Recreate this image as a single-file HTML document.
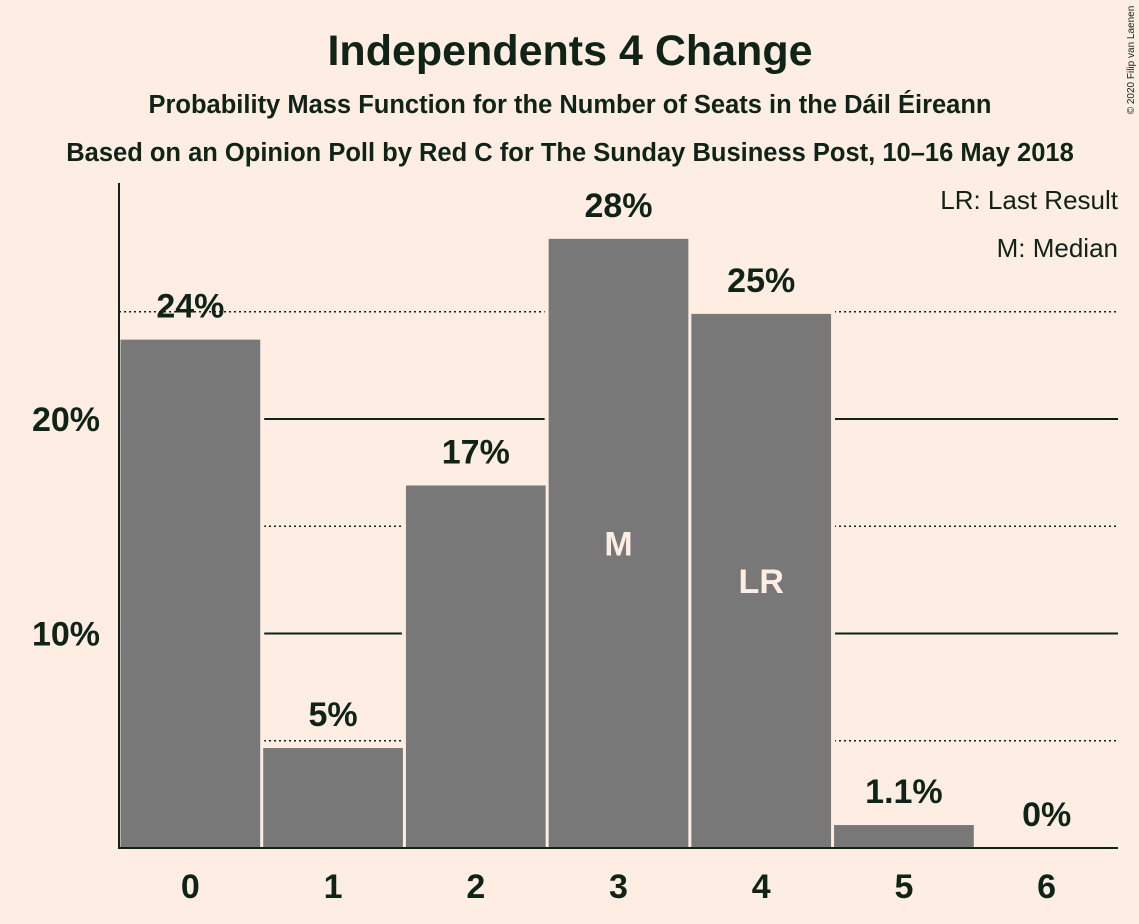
<!DOCTYPE html>
<html><head><meta charset="utf-8">
<style>
html,body{margin:0;padding:0;background:#feede3;}
svg{display:block;font-family:"Liberation Sans",sans-serif;}
</style></head>
<body>
<svg id="chart" width="1139" height="924" viewBox="0 0 1139 924">
<rect width="1139" height="924" fill="#feede3"/>
<text x="570" y="65" text-anchor="middle" font-size="43" font-weight="bold" fill="#0f2317">Independents 4 Change</text>
<text x="570" y="113" text-anchor="middle" font-size="25.5" font-weight="bold" fill="#0f2317">Probability Mass Function for the Number of Seats in the Dáil Éireann</text>
<text x="570" y="161" text-anchor="middle" font-size="25.5" font-weight="bold" fill="#0f2317">Based on an Opinion Poll by Red C for The Sunday Business Post, 10–16 May 2018</text>
<text x="1118" y="209" text-anchor="end" font-size="26" fill="#0f2317">LR: Last Result</text>
<text x="1118" y="257" text-anchor="end" font-size="26" fill="#0f2317">M: Median</text>
<text transform="translate(1134,60) rotate(-90)" text-anchor="middle" font-size="10" fill="#0f2317">© 2020 Filip van Laenen</text>
<g id="grid"></g>
<g id="halos"></g>
<g id="bars"></g>
<line x1="119" y1="183" x2="119" y2="848" stroke="#0f2317" stroke-width="2"/>
<line x1="118" y1="848" x2="1118" y2="848" stroke="#0f2317" stroke-width="2"/>
</svg>
<script>
const categories = ["0","1","2","3","4","5","6"];
const values = [23.7, 4.66, 16.9, 28.4, 24.9, 1.07, 0];
const valueLabels = ["24%","5%","17%","28%","25%","1.1%","0%"];
const innerLabels = ["","","","M","LR","",""];
const solidTicks = [10, 20];
const tickLabels = ["10%","20%"];
const dottedTicks = [5, 15, 25];

const NS = "http://www.w3.org/2000/svg";
const x0 = 119, x1 = 1118, yBase = 848, pxPer = 21.45;
const band = (x1 - x0) / categories.length;
const y = v => yBase - v * pxPer;
const xc = i => x0 + band * (i + 0.5);
function mk(tag, attrs, parent, text){
  const e = document.createElementNS(NS, tag);
  for (const k in attrs) e.setAttribute(k, attrs[k]);
  if (text !== undefined) e.textContent = text;
  parent.appendChild(e); return e;
}
const grid = document.getElementById("grid");
const halos = document.getElementById("halos");
const bars = document.getElementById("bars");
dottedTicks.forEach(t => {
  const l = mk("line", {x1:x0, x2:x1, y1:y(t), y2:y(t), stroke:"#0f2317", "stroke-width":1.5, "stroke-dasharray":"2,3"}, grid);
  
  
});
solidTicks.forEach((t, i) => {
  const l = mk("line", {x1:x0, x2:x1, y1:y(t), y2:y(t), stroke:"#0f2317", "stroke-width":2}, grid);
  
  
  const tx = mk("text", {x:100, y:y(t)+12, "text-anchor":"end", "font-size":34, "font-weight":"bold", fill:"#0f2317"}, grid, tickLabels[i]);
  
  
});
categories.forEach((c, i) => {
  const left = x0 + band * i + 1.5, w = band - 3;
  if (values[i] > 0) {
    const halo = mk("rect", {x:left - 4, y:y(values[i]) - 4, width:w + 8, height:yBase - y(values[i]) + 4, fill:"#feede3"}, halos);
    
    
    const r = mk("rect", {x:left, y:y(values[i]), width:w, height:yBase - y(values[i]), fill:"#787878"}, bars);
    
    
  }
});
categories.forEach((c, i) => {
  const lab = mk("text", {x:xc(i), y:y(values[i]) - 22, "text-anchor":"middle", "font-size":34, "font-weight":"bold", fill:"#0f2317"}, bars, valueLabels[i]);
  
  
  if (innerLabels[i]) {
    const il = mk("text", {x:xc(i), y:(y(values[i]) + yBase)/2 + 12, "text-anchor":"middle", "font-size":34, "font-weight":"bold", fill:"#feede3"}, bars, innerLabels[i]);
    
    
  }
  const xl = mk("text", {x:xc(i), y:898, "text-anchor":"middle", "font-size":34, "font-weight":"bold", fill:"#0f2317"}, bars, c);
  
  
});
</script>
</body></html>
